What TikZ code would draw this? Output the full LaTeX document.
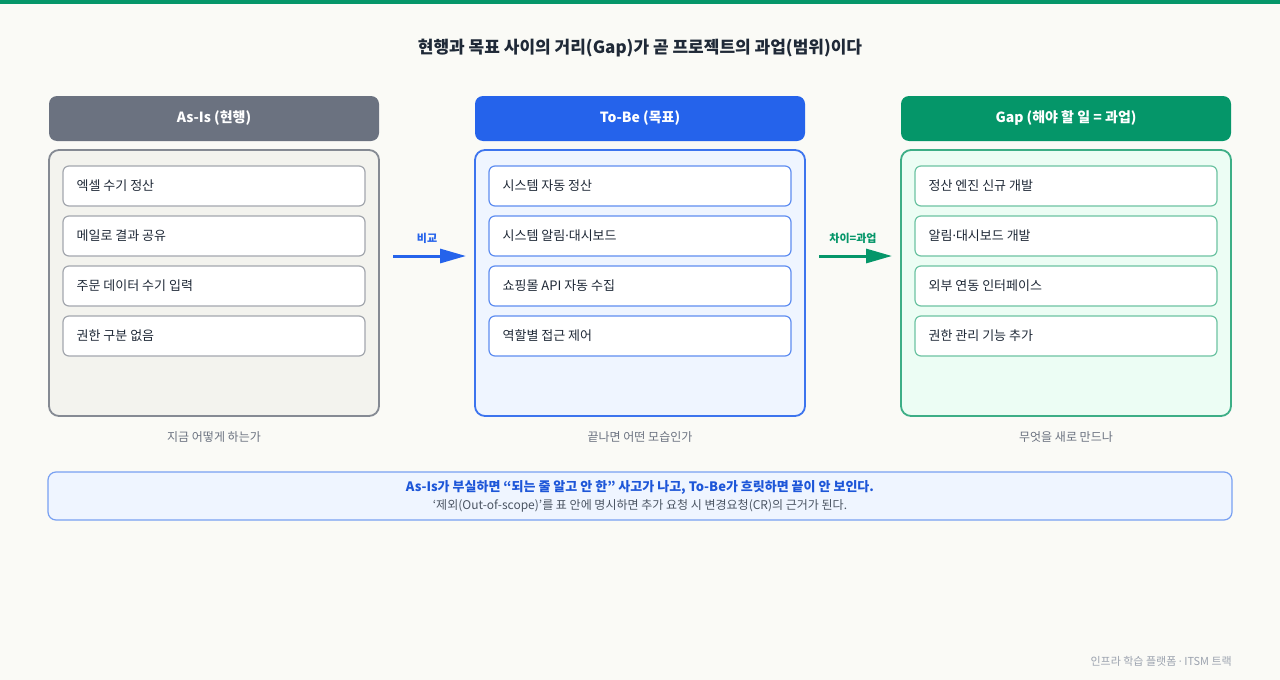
\documentclass[tikz,border=0pt]{standalone}
\usepackage{fontspec}
\setmainfont{Noto Sans CJK KR}
\newfontfamily\latinfont{Noto Sans}
\usepackage{tikz}
\usetikzlibrary{arrows.meta,positioning,calc}
\definecolor{bgpaper}{HTML}{FAFAF6}
\definecolor{emer}{HTML}{059669}
\definecolor{emerline}{HTML}{3DAE86}
\definecolor{emeritem}{HTML}{6CC3A2}
\definecolor{emerfill}{HTML}{ECFDF4}
\definecolor{slate}{HTML}{6B7280}
\definecolor{slateline}{HTML}{858A93}
\definecolor{slateitem}{HTML}{A3A7AE}
\definecolor{slatefill}{HTML}{F3F3EE}
\definecolor{royal}{HTML}{2563EB}
\definecolor{royalline}{HTML}{3C74EE}
\definecolor{royalitem}{HTML}{5E8DF1}
\definecolor{royalfill}{HTML}{EFF5FF}
\definecolor{notefill}{HTML}{EFF5FF}
\definecolor{noteline}{HTML}{78A0F2}
\definecolor{notetext}{HTML}{1D56D8}
\definecolor{inktext}{HTML}{1F2937}
\definecolor{subtext}{HTML}{4B5563}
\definecolor{mutetext}{HTML}{9CA3AF}
\newcommand{\middot}{{\latinfont ·}}
\tikzset{
  >=Stealth,
  head/.style={rectangle, rounded corners=8pt, minimum width=330pt, minimum height=45pt,
    inner sep=0pt, text=white, font=\fontsize{14}{16}\selectfont\bfseries},
  panel/.style={rectangle, rounded corners=10pt, minimum width=330pt, minimum height=266pt,
    inner sep=0pt, line width=1.8pt},
  item/.style={rectangle, rounded corners=6pt, minimum width=302pt, minimum height=40pt,
    inner sep=0pt, fill=white, line width=1.2pt},
  itemtxt/.style={anchor=west, inner sep=0pt, text=inktext, font=\fontsize{13}{15}\selectfont},
  capline/.style={text=slate, font=\fontsize{12}{14}\selectfont},
  flow/.style={line width=3pt, -{Triangle[length=26pt,width=14pt]}},
  flowlbl/.style={font=\fontsize{11}{13}\selectfont\bfseries}
}
\begin{document}
\begin{tikzpicture}[x=1pt,y=-1pt]
    \useasboundingbox[fill=bgpaper] (0,0) rectangle (1280,680);
    \fill[emer] (0,0) rectangle (1280,4);

    % === Title ===
    \node[text=inktext, font=\fontsize{17}{21}\selectfont\bfseries] (title) at (640,48)
      {현행과 목표 사이의 거리(Gap)가 곧 프로젝트의 과업(범위)이다};

    % === Columns ===
    \foreach \cx/\id/\hc/\lc/\ic/\fc/\htxt/\ctxt in {
        214/asis/slate/slateline/slateitem/slatefill/{As-Is (현행)}/{지금 어떻게 하는가},
        640/tobe/royal/royalline/royalitem/royalfill/{To-Be (목표)}/{끝나면 어떤 모습인가},
        1066/gap/emer/emerline/emeritem/emerfill/{Gap (해야 할 일 = 과업)}/{무엇을 새로 만드나}} {
      \node[head, fill=\hc] (\id-head) at (\cx,118.5) {\htxt};
      \node[panel, draw=\lc, fill=\fc] (\id-body) at (\cx,283) {};
      \node[capline] (\id-cap) at (\cx,437) {\ctxt};
      \foreach \k in {1,...,4} {
        \node[item, draw=\ic] (\id-\k) at (\cx,136+50*\k) {};
      }
    }

    % As-Is items
    \node[itemtxt] at ([xshift=14pt]asis-1.west) {엑셀 수기 정산};
    \node[itemtxt] at ([xshift=14pt]asis-2.west) {메일로 결과 공유};
    \node[itemtxt] at ([xshift=14pt]asis-3.west) {주문 데이터 수기 입력};
    \node[itemtxt] at ([xshift=14pt]asis-4.west) {권한 구분 없음};

    % To-Be items
    \node[itemtxt] at ([xshift=14pt]tobe-1.west) {시스템 자동 정산};
    \node[itemtxt] at ([xshift=14pt]tobe-2.west) {시스템 알림\middot 대시보드};
    \node[itemtxt] at ([xshift=14pt]tobe-3.west) {쇼핑몰 API 자동 수집};
    \node[itemtxt] at ([xshift=14pt]tobe-4.west) {역할별 접근 제어};

    % Gap items
    \node[itemtxt] at ([xshift=14pt]gap-1.west) {정산 엔진 신규 개발};
    \node[itemtxt] at ([xshift=14pt]gap-2.west) {알림\middot 대시보드 개발};
    \node[itemtxt] at ([xshift=14pt]gap-3.west) {외부 연동 인터페이스};
    \node[itemtxt] at ([xshift=14pt]gap-4.west) {권한 관리 기능 추가};

    % === Arrows between columns ===
    \coordinate (cmp-s) at (393,256);
    \coordinate (cmp-e) at (466,256);
    \draw[flow, royal] (cmp-s) -- (cmp-e);
    \node[flowlbl, text=royal] (cmp-lbl) at (427,238) {비교};

    \coordinate (dif-s) at (819,256);
    \coordinate (dif-e) at (892,256);
    \draw[flow, emer] (dif-s) -- (dif-e);
    \node[flowlbl, text=emer] (dif-lbl) at (853,238) {차이=과업};

    % === Note box ===
    \node[rectangle, rounded corners=8pt, draw=noteline, line width=1.2pt, fill=notefill,
      minimum width=1184pt, minimum height=48pt, inner sep=0pt] (note) at (640,496) {};
    \node[text=notetext, font=\fontsize{13}{15}\selectfont\bfseries] (note-a) at (640,487)
      {As-Is가 부실하면 “되는 줄 알고 안 한” 사고가 나고, To-Be가 흐릿하면 끝이 안 보인다.};
    \node[text=subtext, font=\fontsize{12}{14}\selectfont] (note-b) at (640,506)
      {‘제외(Out-of-scope)’를 표 안에 명시하면 추가 요청 시 변경요청(CR)의 근거가 된다.};

    % === Footer ===
    \node[anchor=east, inner sep=0pt, text=mutetext, font=\fontsize{11}{13}\selectfont] (foot) at (1232,661)
      {인프라 학습 플랫폼 \middot\ ITSM 트랙};
\end{tikzpicture}
\end{document}
